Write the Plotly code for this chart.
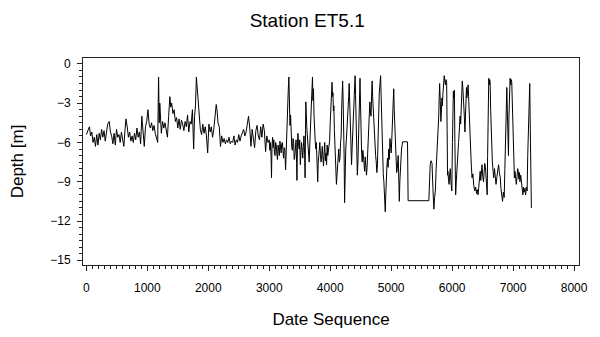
import plotly.graph_objects as go

title_text = "Station ET5.1"
x_title = "Date Sequence"
y_title = "Depth [m]"

x_tickvals = [0, 1000, 2000, 3000, 4000, 5000, 6000, 7000, 8000]
y_tickvals = [0, -3, -6, -9, -12, -15]

# early, calmer period
date_seq_early = [
    0, 30, 50, 70, 90, 110, 130, 150, 170, 190,
    210, 230, 250, 270, 290, 310, 330, 350, 375, 395,
    415, 435, 455, 475, 495, 515, 535, 555, 575, 595,
    615, 635, 650, 670, 690, 710, 730, 750, 770, 790,
    810, 830, 850, 870, 890, 910, 930, 950, 970, 990,
    1010, 1030, 1050, 1070, 1090, 1110, 1130, 1150, 1170, 1185,
    1195, 1205, 1215, 1230, 1250, 1270, 1290, 1310, 1330, 1350,
    1370, 1385, 1400, 1420, 1440, 1460, 1480, 1500, 1520, 1540,
    1560, 1580, 1600, 1620, 1640, 1660, 1680, 1700, 1720, 1740,
    1760, 1775, 1790, 1805, 1820, 1835, 1850, 1870, 1890, 1910,
    1930, 1950, 1970, 1990, 2010, 2030, 2050, 2070, 2090, 2110,
    2130, 2145, 2160, 2180, 2200, 2220, 2240, 2260, 2280, 2300,
    2320, 2340, 2360, 2380, 2400, 2420, 2440, 2460, 2480, 2500,
    2520, 2540, 2560, 2580, 2600, 2620, 2640, 2660, 2680, 2700,
    2720, 2740, 2760, 2780, 2800, 2820, 2840, 2860, 2880, 2900,
    2920, 2940, 2960, 2980,
]
depth_early = [
    -5.4, -5.0, -4.8, -5.5, -5.2, -6.0, -5.6, -6.3, -5.4, -6.2,
    -5.3, -5.8, -5.0, -5.6, -5.1, -5.9, -5.3, -4.6, -4.4, -5.2,
    -5.5, -6.1, -5.3, -6.2, -5.0, -5.6, -5.4, -6.0, -5.2, -5.9,
    -6.3, -5.0, -4.2, -4.8, -5.6, -5.2, -5.9, -5.5, -6.0, -5.3,
    -5.8, -4.9, -5.6, -5.2, -6.1, -4.0, -5.2, -6.3, -4.8, -4.4,
    -3.5, -4.6, -4.9, -4.5, -5.1, -4.7, -5.3, -5.6, -6.0, -1.0,
    -4.5, -3.0, -4.3, -5.3, -4.4, -4.9, -4.5, -5.0, -5.6, -4.0,
    -2.5, -3.3, -3.0, -3.8, -3.5, -4.4, -4.1, -4.9, -4.2, -5.0,
    -4.3, -4.6, -5.1, -4.4, -4.8, -3.9, -5.2, -4.4, -4.6, -3.5,
    -6.5, -4.0, -3.2, -1.0, -2.0, -2.8, -4.2, -5.0, -5.4, -4.6,
    -5.3, -4.8, -5.5, -6.8, -4.6, -5.2, -4.8, -5.6, -5.0, -4.2,
    -3.1, -3.6, -4.5, -4.8, -6.3, -5.5, -6.0, -5.7, -6.1, -5.8,
    -6.0, -5.6, -6.1, -5.9, -6.0, -5.5, -6.2, -5.8, -6.0, -5.4,
    -5.9, -5.5, -5.2, -5.0, -5.5, -5.2, -4.6, -4.0, -4.9, -6.3,
    -5.0, -5.9, -6.4, -5.1, -4.7, -5.5, -5.8, -4.8, -5.6, -4.6,
    -5.1, -6.7, -5.5, -6.0,
]

# middle, volatile period
date_seq_mid = [
    3000, 3010, 3020, 3030, 3037, 3045, 3055, 3065, 3075, 3085,
    3095, 3105, 3115, 3125, 3135, 3145, 3155, 3165, 3175, 3185,
    3195, 3205, 3215, 3225, 3235, 3245, 3255, 3268, 3280, 3290,
    3300, 3312, 3322, 3332, 3340, 3350, 3360, 3370, 3380, 3390,
    3400, 3410, 3420, 3430, 3440, 3448, 3455, 3462, 3470, 3480,
    3490, 3500, 3510, 3520, 3530, 3540, 3550, 3560, 3570, 3580,
    3588, 3595, 3600, 3608, 3615, 3625, 3635, 3645, 3655, 3665,
    3675, 3683, 3690, 3700, 3709, 3717, 3725, 3735, 3745, 3755,
    3765, 3772, 3780, 3788, 3795, 3803, 3810, 3820, 3830, 3840,
    3850, 3860, 3870, 3880, 3890, 3900, 3910, 3920, 3930, 3940,
    3950, 3960, 3970, 3980, 3990, 4000, 4010, 4020, 4030, 4038,
    4045, 4052, 4060, 4068, 4075, 4083, 4090, 4096, 4102, 4110,
    4120, 4130, 4140, 4150, 4160, 4170, 4180, 4188, 4196, 4204,
    4212, 4220, 4228, 4236, 4245, 4255, 4265, 4275, 4285, 4295,
    4303, 4311, 4320, 4330, 4340, 4350, 4360, 4370, 4380, 4388,
    4398, 4408, 4416, 4425, 4435, 4445, 4455, 4465, 4475, 4482,
    4489, 4497, 4505, 4515, 4525, 4535, 4545, 4555, 4565, 4575,
    4585, 4595, 4605, 4615, 4625, 4635, 4643, 4650, 4660, 4670,
    4680, 4688, 4696, 4705, 4715, 4725, 4735, 4745, 4755, 4765,
    4775, 4785, 4795, 4805, 4815, 4827, 4836, 4845, 4852, 4860,
    4870, 4880, 4890, 4903, 4912, 4920, 4930, 4940, 4950, 4960,
    4970, 4980, 4990, 5000, 5010, 5020, 5030, 5042, 5050, 5060,
    5070, 5080, 5090, 5100, 5108, 5115, 5125, 5134, 5142, 5150,
    5160, 5170, 5180, 5187, 5268, 5278, 5618,
]
depth_mid = [
    -5.8, -6.6, -6.0, -7.0, -8.7, -6.3, -5.6, -6.4, -5.8, -6.8,
    -7.0, -6.0, -6.2, -6.9, -7.3, -6.2, -6.5, -7.0, -5.9, -6.4,
    -6.8, -6.1, -6.0, -6.6, -7.2, -6.4, -6.5, -8.1, -6.0, -4.5,
    -3.8, -2.0, -1.0, -3.5, -4.7, -3.9, -5.5, -6.4, -6.6, -5.7,
    -6.0, -7.3, -7.0, -6.1, -5.8, -7.6, -8.9, -6.4, -5.3, -6.0,
    -6.5, -5.8, -7.7, -6.8, -6.0, -6.6, -7.2, -6.3, -5.5, -6.9,
    -8.7, -5.0, -2.9, -3.8, -4.8, -5.4, -6.0, -7.0, -7.5, -6.2,
    -5.0, -4.0, -3.5, -2.0, -1.0, -2.8, -1.9, -4.0, -5.7, -6.0,
    -6.5, -6.0, -7.0, -8.2, -9.0, -7.6, -7.3, -6.6, -6.0, -6.9,
    -7.5, -7.0, -6.3, -7.1, -7.8, -6.8, -6.0, -7.4, -6.8, -7.7,
    -6.2, -7.0, -6.5, -6.0, -5.9, -4.5, -3.0, -2.0, -1.4, -2.5,
    -2.2, -3.6, -3.2, -5.0, -6.0, -6.8, -7.5, -8.4, -9.2, -8.6,
    -8.0, -7.0, -6.5, -7.5, -7.2, -6.0, -5.5, -3.5, -2.0, -1.3,
    -2.8, -4.0, -7.0, -10.6, -8.0, -6.5, -5.8, -5.0, -4.8, -4.0,
    -2.5, -1.5, -3.0, -4.4, -6.0, -7.7, -6.4, -5.0, -4.2, -3.0,
    -1.8, -0.9, -2.4, -5.0, -6.6, -8.5, -7.5, -6.0, -3.5, -2.0,
    -1.1, -3.0, -5.5, -6.8, -7.5, -6.6, -7.0, -7.6, -8.2, -7.1,
    -7.8, -8.5, -7.9, -6.8, -6.0, -4.5, -3.4, -2.9, -3.6, -4.0,
    -2.2, -1.3, -2.5, -3.5, -4.8, -5.7, -6.2, -7.0, -7.5, -8.3,
    -7.7, -6.5, -4.0, -2.2, -1.4, -0.9, -2.5, -4.5, -6.0, -7.0,
    -8.4, -9.0, -10.0, -11.3, -10.0, -8.5, -7.8, -7.2, -7.9, -6.5,
    -7.3, -5.7, -6.2, -6.8, -5.8, -4.5, -3.0, -1.9, -3.5, -5.0,
    -6.8, -7.5, -8.3, -8.0, -7.2, -7.0, -8.8, -10.5, -9.0, -8.0,
    -7.0, -6.5, -6.2, -5.95, -5.95, -10.45, -10.45,
]

# late period
date_seq_late = [
    5630, 5640, 5655, 5670, 5685, 5700, 5712, 5725, 5738, 5750,
    5760, 5770, 5780, 5788, 5795, 5805, 5815, 5825, 5833, 5840,
    5850, 5860, 5870, 5880, 5890, 5900, 5910, 5918, 5925, 5930,
    5940, 5950, 5960, 5970, 5980, 5995, 6005, 6012, 6020, 6028,
    6037, 6045, 6052, 6058, 6068, 6075, 6085, 6095, 6105, 6110,
    6120, 6130, 6140, 6150, 6158, 6166, 6175, 6185, 6193, 6200,
    6210, 6218, 6228, 6235, 6242, 6250, 6262, 6270, 6280, 6290,
    6300, 6315, 6327, 6340, 6355, 6370, 6385, 6400, 6412, 6425,
    6435, 6448, 6460, 6470, 6480, 6490, 6502, 6515, 6525, 6535,
    6547, 6555, 6565, 6575, 6582, 6590, 6601, 6610, 6616, 6623,
    6632, 6645, 6660, 6672, 6682, 6695, 6708, 6720, 6735, 6748,
    6762, 6775, 6790, 6800, 6812, 6827, 6840, 6854, 6865, 6875,
    6885, 6897, 6905, 6912, 6924, 6932, 6940, 6951, 6960, 6970,
    6978, 6988, 7000, 7010, 7021, 7030, 7042, 7053, 7065, 7075,
    7085, 7095, 7105, 7112, 7125, 7139, 7150, 7160, 7170, 7180,
    7193, 7205, 7218, 7230, 7240, 7250, 7257, 7265, 7273, 7285, 7300,
]
depth_late = [
    -9.0, -7.7, -7.4, -7.6, -9.5, -11.1, -10.2, -9.7, -8.0, -7.0,
    -6.3, -5.7, -4.0, -2.5, -1.5, -2.8, -4.4, -3.5, -2.6, -3.2,
    -2.2, -1.5, -0.9, -1.3, -1.6, -1.2, -1.4, -5.0, -8.5, -8.2,
    -8.8, -9.2, -8.4, -8.0, -9.0, -9.7, -6.0, -3.0, -2.1, -2.6,
    -2.0, -6.0, -9.0, -10.0, -9.0, -8.2, -7.5, -6.8, -6.0, -5.7,
    -5.0, -4.0, -4.6, -3.0, -2.0, -1.3, -1.8, -2.5, -3.2, -4.0,
    -5.2, -3.5, -1.9, -1.8, -2.6, -1.6, -1.6, -2.5, -4.0, -5.7,
    -6.8, -7.8, -8.7, -8.4, -9.3, -9.7, -9.4, -9.9, -9.6, -10.0,
    -9.5, -9.0, -8.2, -8.9, -8.0, -7.7, -8.6, -9.0, -8.3, -7.6,
    -7.9, -8.6, -9.4, -10.0, -7.0, -3.0, -1.1, -1.6, -1.2, -1.4,
    -3.5, -6.2, -7.5, -8.2, -8.7, -8.0, -8.8, -9.2, -8.6, -8.1,
    -7.7, -8.3, -8.7, -9.5, -10.0, -10.5, -9.8, -10.2, -8.0, -5.0,
    -2.5, -1.8, -3.5, -5.5, -7.0, -4.0, -2.0, -1.1, -1.6, -1.2,
    -1.4, -3.5, -5.7, -7.0, -8.7, -8.2, -9.0, -9.2, -8.6, -8.0,
    -8.2, -8.8, -8.3, -9.0, -8.5, -9.2, -9.6, -10.0, -9.4, -9.8,
    -9.5, -10.0, -9.4, -9.7, -7.0, -4.5, -3.7, -2.0, -1.5, -6.0, -11.0,
]

date_seq = date_seq_early + date_seq_mid + date_seq_late
depth = depth_early + depth_mid + depth_late
assert len(date_seq) == len(depth)

font_family = "Liberation Sans, Arial, Helvetica, sans-serif"

fig = go.Figure(
    go.Scatter(x=date_seq, y=depth, mode="lines", line=dict(color="black", width=1))
)

axis_common = dict(
    showgrid=False,
    zeroline=False,
    showline=True,
    mirror=True,
    linecolor="#222222",
    linewidth=1,
    ticks="outside",
    ticklen=5,
    tickwidth=1,
    tickcolor="#222222",
    tickfont=dict(size=12, color="black", family=font_family),
)

fig.update_layout(
    width=600,
    height=337,
    margin=dict(l=83, r=12, t=58, b=70),
    paper_bgcolor="white",
    plot_bgcolor="white",
    showlegend=False,
    font=dict(family=font_family, color="black"),
    title=dict(
        text=title_text,
        font=dict(size=19, color="black", family=font_family),
        x=0.512,
        xref="container",
        xanchor="center",
        y=1 - 20 / 337,
        yref="container",
        yanchor="middle",
    ),
    xaxis=dict(
        axis_common,
        range=[-55, 8081],
        tickmode="array",
        tickvals=x_tickvals,
        ticklabelstandoff=7,
        minor=dict(dtick=100, tick0=0, ticks="outside", ticklen=3, tickcolor="#222222"),
        title=dict(text=x_title, font=dict(size=17, family=font_family), standoff=18),
    ),
    yaxis=dict(
        axis_common,
        range=[-15.36, 0.45],
        tickmode="array",
        tickvals=y_tickvals,
        ticklabelstandoff=4,
        minor=dict(dtick=0.5, tick0=0, ticks="outside", ticklen=3, tickcolor="#222222"),
        title=dict(text=y_title, font=dict(size=17, family=font_family), standoff=22),
    ),
)

fig.write_html("out.html")
